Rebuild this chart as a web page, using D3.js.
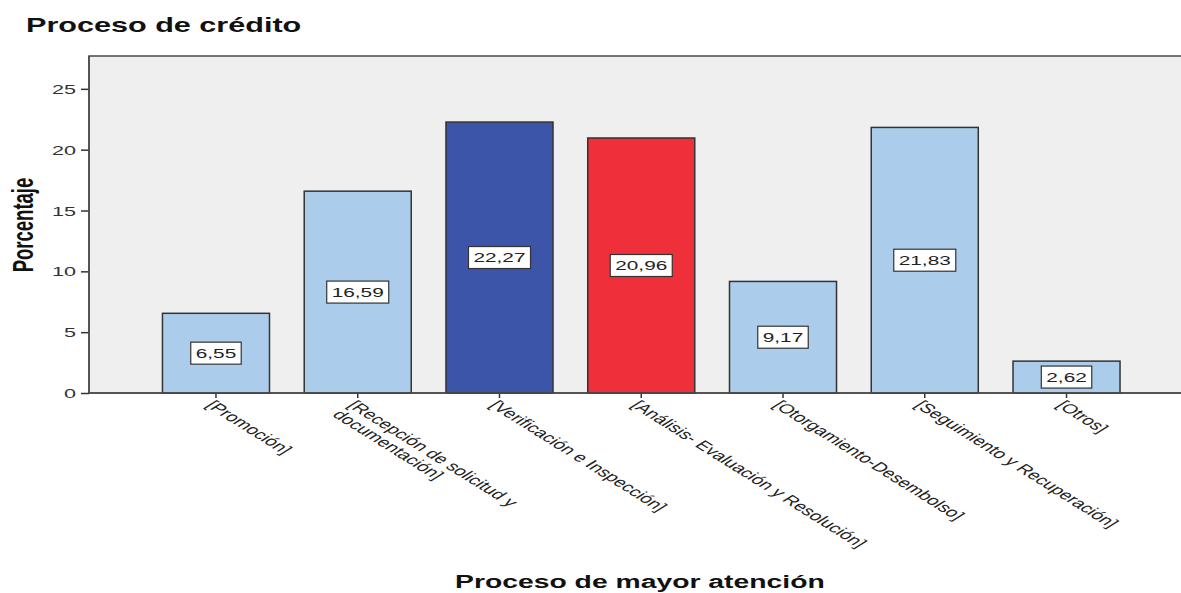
<!DOCTYPE html>
<html>
<head>
<meta charset="utf-8">
<script src="https://cdn.jsdelivr.net/npm/d3@7"></script>
<style>
  html, body { margin: 0; padding: 0; background: #fff; }
  svg { display: block; }
  text { font-family: "Liberation Sans", Arial, sans-serif; }
</style>
</head>
<body>
<svg id="chart" width="1181" height="593"></svg>
<script>
// Categories (line breaks mark wrapped axis labels)
const categories = [
  "[Promoción]",
  "[Recepción de solicitud y\ndocumentación]",
  "[Verificación e Inspección]",
  "[Análisis- Evaluación y Resolución]",
  "[Otorgamiento-Desembolso]",
  "[Seguimiento y Recuperación]",
  "[Otros]"
];
// Percentage per category
const values = [6.55, 16.59, 22.27, 20.96, 9.17, 21.83, 2.62];
// Y axis ticks
const yTicks = [0, 5, 10, 15, 20, 25];

const titleText = "Proceso de crédito";
const xTitleText = "Proceso de mayor atención";
const yTitleText = "Porcentaje";

// Styling
const SX = 1.6;                    // horizontal glyph stretch
const FONT = "'Liberation Sans', Arial, sans-serif";
const lightBlue = "#abcdeb";
const fills = { "[Verificación e Inspección]": "#3c55a8", "[Análisis- Evaluación y Resolución]": "#ef2f39" };
const fmt = v => v.toFixed(2).replace(".", ",");

const svg = d3.select("#chart");

const plot = { left: 89, top: 56, right: 1200, bottom: 393 };

const x = d3.scaleBand()
  .domain(categories)
  .range([145.1, 1137.4])
  .paddingInner(0.245)
  .paddingOuter(0.1225);

const y = d3.scaleLinear()
  .domain([0, 27.7])
  .range([plot.bottom, plot.top]);

// Plot background and frame
svg.append("rect")
  .attr("x", plot.left).attr("y", plot.top)
  .attr("width", plot.right - plot.left).attr("height", plot.bottom - plot.top)
  .attr("fill", "#efefef")
  .attr("stroke", "#4a4a4a").attr("stroke-width", 1.5);

// Bars
svg.append("g").selectAll("rect")
  .data(categories)
  .join("rect")
  .attr("x", d => x(d))
  .attr("y", (d, i) => y(values[i]))
  .attr("width", x.bandwidth())
  .attr("height", (d, i) => y(0) - y(values[i]))
  .attr("fill", d => fills[d] || lightBlue)
  .attr("stroke", "#333")
  .attr("stroke-width", 1.5);

// Y axis
const yAxis = svg.append("g")
  .attr("transform", `translate(${plot.left},0)`)
  .call(d3.axisLeft(y).tickValues(yTicks).tickSize(8).tickPadding(0).tickFormat(d3.format("d")));
yAxis.select(".domain").remove();
yAxis.selectAll(".tick line").attr("stroke", "#333").attr("stroke-width", 1.5);
yAxis.selectAll(".tick text")
  .attr("font-family", FONT).attr("font-size", 13.5).attr("fill", "#333")
  .attr("x", null).attr("dy", null)
  .attr("text-anchor", "end")
  .attr("dominant-baseline", "central")
  .attr("transform", `translate(-13,0) scale(${SX},1)`);

// X axis
const xAxis = svg.append("g")
  .attr("transform", `translate(0,${plot.bottom})`)
  .call(d3.axisBottom(x).tickSize(5).tickFormat(""));
xAxis.select(".domain").remove();
xAxis.selectAll(".tick line").attr("stroke", "#333").attr("stroke-width", 1.5);

// Baseline and left axis line
svg.append("line")
  .attr("x1", plot.left).attr("x2", plot.right)
  .attr("y1", y(0)).attr("y2", y(0))
  .attr("stroke", "#4a4a4a").attr("stroke-width", 1.5);
svg.append("line")
  .attr("x1", plot.left).attr("x2", plot.left)
  .attr("y1", plot.top).attr("y2", plot.bottom)
  .attr("stroke", "#4a4a4a").attr("stroke-width", 1.5);

// Rotated category labels
const labels = svg.append("g").selectAll("text")
  .data(categories)
  .join("text")
  .attr("font-family", FONT)
  .attr("font-size", 13)
  .attr("fill", "#222")
  .attr("dominant-baseline", "hanging")
  .attr("transform", d => `translate(${x(d) + x.bandwidth() / 2},${plot.bottom + 6}) scale(${SX},1) rotate(45)`);
labels.selectAll("tspan")
  .data(d => d.split("\n"))
  .join("tspan")
  .attr("x", 0)
  .attr("dy", (d, i) => i === 0 ? 0 : 13.5)
  .text(d => d);

// Value boxes
const boxes = svg.append("g").selectAll("g")
  .data(categories)
  .join("g")
  .attr("transform", (d, i) => `translate(${x(d) + x.bandwidth() / 2},${y(values[i] / 2)})`);
boxes.each(function (d, i) {
  const g = d3.select(this);
  const t = g.append("text")
    .attr("font-family", FONT).attr("font-size", 13).attr("fill", "#222")
    .attr("text-anchor", "middle").attr("dominant-baseline", "central")
    .attr("transform", `scale(${SX},1)`)
    .text(fmt(values[i]));
  const w = t.node().getComputedTextLength() * SX + 10;
  g.insert("rect", "text")
    .attr("x", -w / 2).attr("y", -11)
    .attr("width", w).attr("height", 22)
    .attr("fill", "#fff").attr("stroke", "#333").attr("stroke-width", 1.2);
});

// Titles
svg.append("text")
  .attr("font-family", FONT).attr("font-size", 20).attr("font-weight", "bold").attr("fill", "#111")
  .attr("transform", `translate(26,32) scale(1.53,1)`)
  .text(titleText);

svg.append("text")
  .attr("font-family", FONT).attr("font-size", 17.7).attr("font-weight", "bold").attr("fill", "#111")
  .attr("transform", `translate(455,588) scale(${SX},1)`)
  .text(xTitleText);

svg.append("text")
  .attr("font-family", FONT).attr("font-size", 18.5).attr("font-weight", "bold").attr("fill", "#111")
  .attr("text-anchor", "middle")
  .attr("transform", `translate(33,225) scale(${SX},1) rotate(-90)`)
  .text(yTitleText);
</script>
</body>
</html>
